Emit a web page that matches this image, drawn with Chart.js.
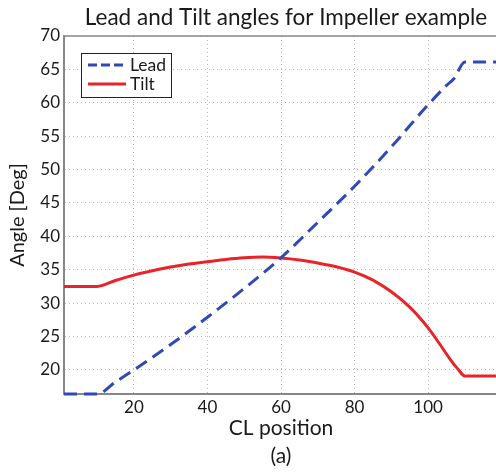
<!DOCTYPE html>
<html><head><meta charset="utf-8">
<script src="https://cdn.jsdelivr.net/npm/chart.js@4"></script>
<style>html,body{margin:0;padding:0;overflow:hidden;background:#fff;}#wrap{width:500px;height:474px;}</style>
</head><body><div id="wrap"><canvas id="c" width="500" height="474"></canvas></div>
<script>
const chartTitle = 'Lead and Tilt angles for Impeller example';
const xTitle = ['CL position', '(a)'];
const yTitle = 'Angle [Deg]';
const xTicks = [20, 40, 60, 80, 100];
const yTicks = [20, 25, 30, 35, 40, 45, 50, 55, 60, 65, 70];

const leadX = [1, 10, 15, 20, 30, 40, 50, 60, 70, 80, 90, 100, 105, 107, 110, 119];
const leadY = [16.4, 16.4, 18.2, 20.0, 23.8, 27.9, 32.2, 36.8, 42.1, 47.5, 53.4, 59.7, 62.6, 63.6, 66.1, 66.1];

const tiltX = [1, 10, 15, 20, 25, 30, 35, 40, 45, 50, 55, 60, 65, 70, 75, 80, 85, 90, 95, 100, 103, 106, 108, 110, 119];
const tiltY = [32.5, 32.5, 33.4, 34.2, 34.85, 35.4, 35.85, 36.2, 36.55, 36.8, 36.9, 36.75, 36.45, 36.0, 35.45, 34.65, 33.45, 31.7, 29.4, 26.3, 24.0, 21.6, 20.2, 19.1, 19.1];

const FONT = 'Lato, "Open Sans", sans-serif';
const TXT = '#1a1a1a';

const framePlugin = {
  id: 'frame',
  beforeDatasetsDraw(chart) {
    const {ctx, chartArea: a} = chart;
    ctx.save();
    ctx.strokeStyle = '#888';
    ctx.lineWidth = 1.5;
    ctx.beginPath();
    ctx.moveTo(a.left, a.top); ctx.lineTo(a.right, a.top); ctx.lineTo(a.right, a.bottom);
    ctx.stroke();
    ctx.restore();
  },
  afterDraw(chart) {
    const {ctx, chartArea: a} = chart;
    ctx.save();
    ctx.fillStyle = TXT;
    ctx.font = '22.5px ' + FONT;
    ctx.textAlign = 'center';
    ctx.textBaseline = 'middle';
    ctx.fillText(chartTitle, (a.left + a.right) / 2 + 5, 18);
    const bx = a.left + 17, by = a.top + 17, bw = 90, bh = 44;
    ctx.fillStyle = '#fff';
    ctx.fillRect(bx, by, bw, bh);
    ctx.strokeStyle = '#222';
    ctx.lineWidth = 1;
    ctx.strokeRect(bx + 0.5, by + 0.5, bw, bh);
    const rows = [by + 12, by + 31];
    chart.data.datasets.forEach((ds, i) => {
      ctx.strokeStyle = ds.borderColor;
      ctx.lineWidth = 3;
      ctx.setLineDash(i === 0 ? [9, 4] : []);
      ctx.beginPath();
      ctx.moveTo(bx + 7, rows[i]); ctx.lineTo(bx + 45, rows[i]);
      ctx.stroke();
      ctx.setLineDash([]);
      ctx.fillStyle = TXT;
      ctx.font = '17.5px ' + FONT;
      ctx.textAlign = 'left';
      ctx.textBaseline = 'middle';
      ctx.fillText(ds.label, bx + 49, rows[i]);
    });
    ctx.restore();
  }
};

new Chart(document.getElementById('c'), {
  type: 'line',
  data: {
    datasets: [
      { label: 'Lead', data: leadX.map((x, i) => ({x, y: leadY[i]})), borderColor: '#2f4bb3', borderWidth: 3, borderDash: [13, 7], pointRadius: 0, cubicInterpolationMode: 'monotone', clip: 5 },
      { label: 'Tilt', data: tiltX.map((x, i) => ({x, y: tiltY[i]})), borderColor: '#e8242a', borderWidth: 3, pointRadius: 0, cubicInterpolationMode: 'monotone', clip: 5 }
    ]
  },
  options: {
    responsive: false,
    animation: false,
    devicePixelRatio: 1,
    layout: { padding: { top: 36, right: 2, left: 0, bottom: 0 } },
    plugins: { legend: { display: false }, title: { display: false }, tooltip: { enabled: false } },
    scales: {
      x: {
        type: 'linear', min: 1, max: 119,
        afterBuildTicks: s => { s.ticks = xTicks.map(v => ({value: v})); },
        afterFit: s => { s.height = 80; },
        ticks: { font: { family: FONT, size: 17 }, color: TXT, padding: 3, maxRotation: 0 },
        grid: { color: 'rgba(0,0,0,0.28)', lineWidth: 1, drawTicks: false },
        border: { display: true, color: '#888', width: 2, dash: [1, 3] },
        title: { display: true, text: xTitle, color: TXT, font: { family: FONT, size: 21, lineHeight: 1.36 }, padding: { top: 0, bottom: 3 } }
      },
      y: {
        type: 'linear', min: 16.4, max: 70,
        afterBuildTicks: s => { s.ticks = yTicks.map(v => ({value: v})); },
        afterFit: s => { s.width = 64; },
        ticks: { font: { family: FONT, size: 17 }, color: TXT, padding: 4 },
        grid: { color: 'rgba(0,0,0,0.28)', lineWidth: 1, drawTicks: false },
        border: { display: true, color: '#888', width: 2, dash: [1, 3] },
        title: { display: true, text: yTitle, color: TXT, font: { family: FONT, size: 20, lineHeight: 1.2 }, padding: { top: 6, bottom: 0 } }
      }
    }
  },
  plugins: [framePlugin]
});
</script>
</body></html>
